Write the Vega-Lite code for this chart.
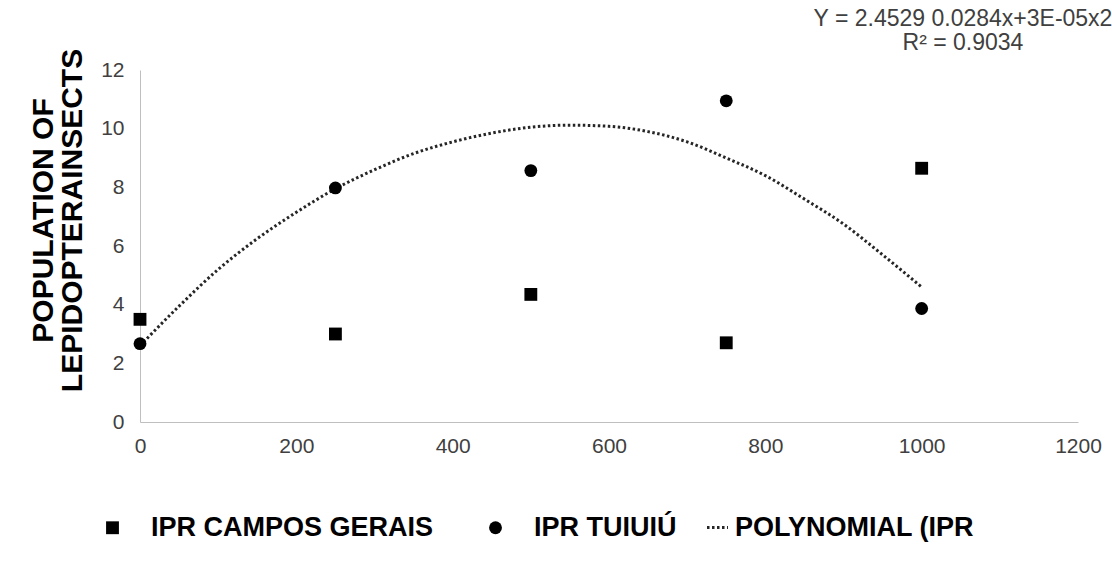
{
  "$schema": "https://vega.github.io/schema/vega-lite/v6.json",
  "width": 938,
  "height": 352,
  "autosize": "none",
  "padding": {"left": 140, "top": 70, "right": 34, "bottom": 143},
  "background": "white",
  "config": {
    "view": {"stroke": null},
    "font": "Liberation Sans"
  },
  "title": {
    "text": ["Y = 2.4529 0.0284x+3E-05x2", "R² = 0.9034"],
    "anchor": "end",
    "frame": "group",
    "align": "center",
    "dx": -115,
    "offset": -7,
    "lineHeight": 24,
    "font": "Liberation Sans",
    "fontSize": 23,
    "fontWeight": "normal",
    "color": "#404040"
  },
  "datasets": {
    "points": [
      {"dose": 0, "population": 3.5, "cultivar": "IPR CAMPOS GERAIS"},
      {"dose": 250, "population": 3.0, "cultivar": "IPR CAMPOS GERAIS"},
      {"dose": 500, "population": 4.35, "cultivar": "IPR CAMPOS GERAIS"},
      {"dose": 750, "population": 2.7, "cultivar": "IPR CAMPOS GERAIS"},
      {"dose": 1000, "population": 8.65, "cultivar": "IPR CAMPOS GERAIS"},
      {"dose": 0, "population": 2.67, "cultivar": "IPR TUIUIÚ"},
      {"dose": 250, "population": 7.98, "cultivar": "IPR TUIUIÚ"},
      {"dose": 500, "population": 8.57, "cultivar": "IPR TUIUIÚ"},
      {"dose": 750, "population": 10.95, "cultivar": "IPR TUIUIÚ"},
      {"dose": 1000, "population": 3.87, "cultivar": "IPR TUIUIÚ"}
    ],
    "trend": [
      {"dose": 0, "population": 2.6, "series": "POLYNOMIAL (IPR"},
      {"dose": 50, "population": 3.95, "series": "POLYNOMIAL (IPR"},
      {"dose": 100, "population": 5.2, "series": "POLYNOMIAL (IPR"},
      {"dose": 150, "population": 6.25, "series": "POLYNOMIAL (IPR"},
      {"dose": 200, "population": 7.15, "series": "POLYNOMIAL (IPR"},
      {"dose": 250, "population": 7.95, "series": "POLYNOMIAL (IPR"},
      {"dose": 300, "population": 8.6, "series": "POLYNOMIAL (IPR"},
      {"dose": 350, "population": 9.15, "series": "POLYNOMIAL (IPR"},
      {"dose": 400, "population": 9.55, "series": "POLYNOMIAL (IPR"},
      {"dose": 450, "population": 9.85, "series": "POLYNOMIAL (IPR"},
      {"dose": 500, "population": 10.05, "series": "POLYNOMIAL (IPR"},
      {"dose": 550, "population": 10.12, "series": "POLYNOMIAL (IPR"},
      {"dose": 600, "population": 10.08, "series": "POLYNOMIAL (IPR"},
      {"dose": 650, "population": 9.9, "series": "POLYNOMIAL (IPR"},
      {"dose": 700, "population": 9.55, "series": "POLYNOMIAL (IPR"},
      {"dose": 750, "population": 9.0, "series": "POLYNOMIAL (IPR"},
      {"dose": 800, "population": 8.4, "series": "POLYNOMIAL (IPR"},
      {"dose": 850, "population": 7.6, "series": "POLYNOMIAL (IPR"},
      {"dose": 900, "population": 6.75, "series": "POLYNOMIAL (IPR"},
      {"dose": 950, "population": 5.7, "series": "POLYNOMIAL (IPR"},
      {"dose": 1000, "population": 4.6, "series": "POLYNOMIAL (IPR"}
    ]
  },
  "encoding": {
    "x": {
      "field": "dose",
      "type": "quantitative",
      "scale": {"domain": [0, 1200], "nice": false, "zero": true},
      "axis": {
        "values": [0, 200, 400, 600, 800, 1000, 1200],
        "format": "d",
        "labelFlush": false,
        "title": null,
        "grid": false,
        "ticks": false,
        "domainColor": "#bfbfbf",
        "domainWidth": 1,
        "labelFont": "Liberation Sans",
        "labelFontSize": 21,
        "labelColor": "#404040",
        "labelPadding": 13
      }
    },
    "y": {
      "field": "population",
      "type": "quantitative",
      "scale": {"domain": [0, 12], "nice": false},
      "axis": {
        "values": [0, 2, 4, 6, 8, 10, 12],
        "title": ["POPULATION OF", "LEPIDOPTERAINSECTS"],
        "titleFont": "Liberation Sans",
        "titleFontSize": 30,
        "titleFontWeight": "bold",
        "titleColor": "#000000",
        "titleLineHeight": 29,
        "titleY": 150,
        "titlePadding": 13,
        "grid": false,
        "ticks": false,
        "domainColor": "#bfbfbf",
        "domainWidth": 1,
        "labelFont": "Liberation Sans",
        "labelFontSize": 21,
        "labelColor": "#404040",
        "labelPadding": 16
      }
    }
  },
  "layer": [
    {
      "data": {"name": "trend"},
      "mark": {
        "type": "line",
        "interpolate": "monotone",
        "color": "#262626",
        "strokeWidth": 3,
        "strokeDash": [2.5, 2.5]
      },
      "encoding": {
        "strokeDash": {
          "field": "series",
          "type": "nominal",
          "scale": {"domain": ["POLYNOMIAL (IPR"], "range": [[2.5, 2.5]]},
          "legend": {
            "title": null,
            "orient": "none",
            "direction": "horizontal",
            "legendX": 564,
            "legendY": 444,
            "labelFont": "Liberation Sans",
            "labelFontSize": 27,
            "labelFontWeight": "bold",
            "labelColor": "#000000",
            "labelOffset": 4,
            "labelLimit": 0,
            "symbolType": "stroke",
            "symbolSize": 440,
            "symbolStrokeWidth": 3,
            "symbolStrokeColor": "#262626",
            "symbolDash": [2.5, 2.5]
          }
        }
      }
    },
    {
      "data": {"name": "points"},
      "mark": {"type": "point", "filled": true, "opacity": 1, "size": 165, "color": "#000000"},
      "encoding": {
        "shape": {
          "field": "cultivar",
          "type": "nominal",
          "scale": {
            "domain": ["IPR CAMPOS GERAIS", "IPR TUIUIÚ"],
            "range": ["square", "circle"]
          },
          "legend": {
            "title": null,
            "orient": "none",
            "direction": "horizontal",
            "legendX": -41,
            "legendY": 444,
            "labelFont": "Liberation Sans",
            "labelFontSize": 27,
            "labelFontWeight": "bold",
            "labelColor": "#000000",
            "labelOffset": 25,
            "labelLimit": 0,
            "columnPadding": 48,
            "symbolSize": 165,
            "symbolOpacity": 1,
            "symbolFillColor": "#000000",
            "symbolStrokeColor": "transparent"
          }
        }
      }
    }
  ]
}
